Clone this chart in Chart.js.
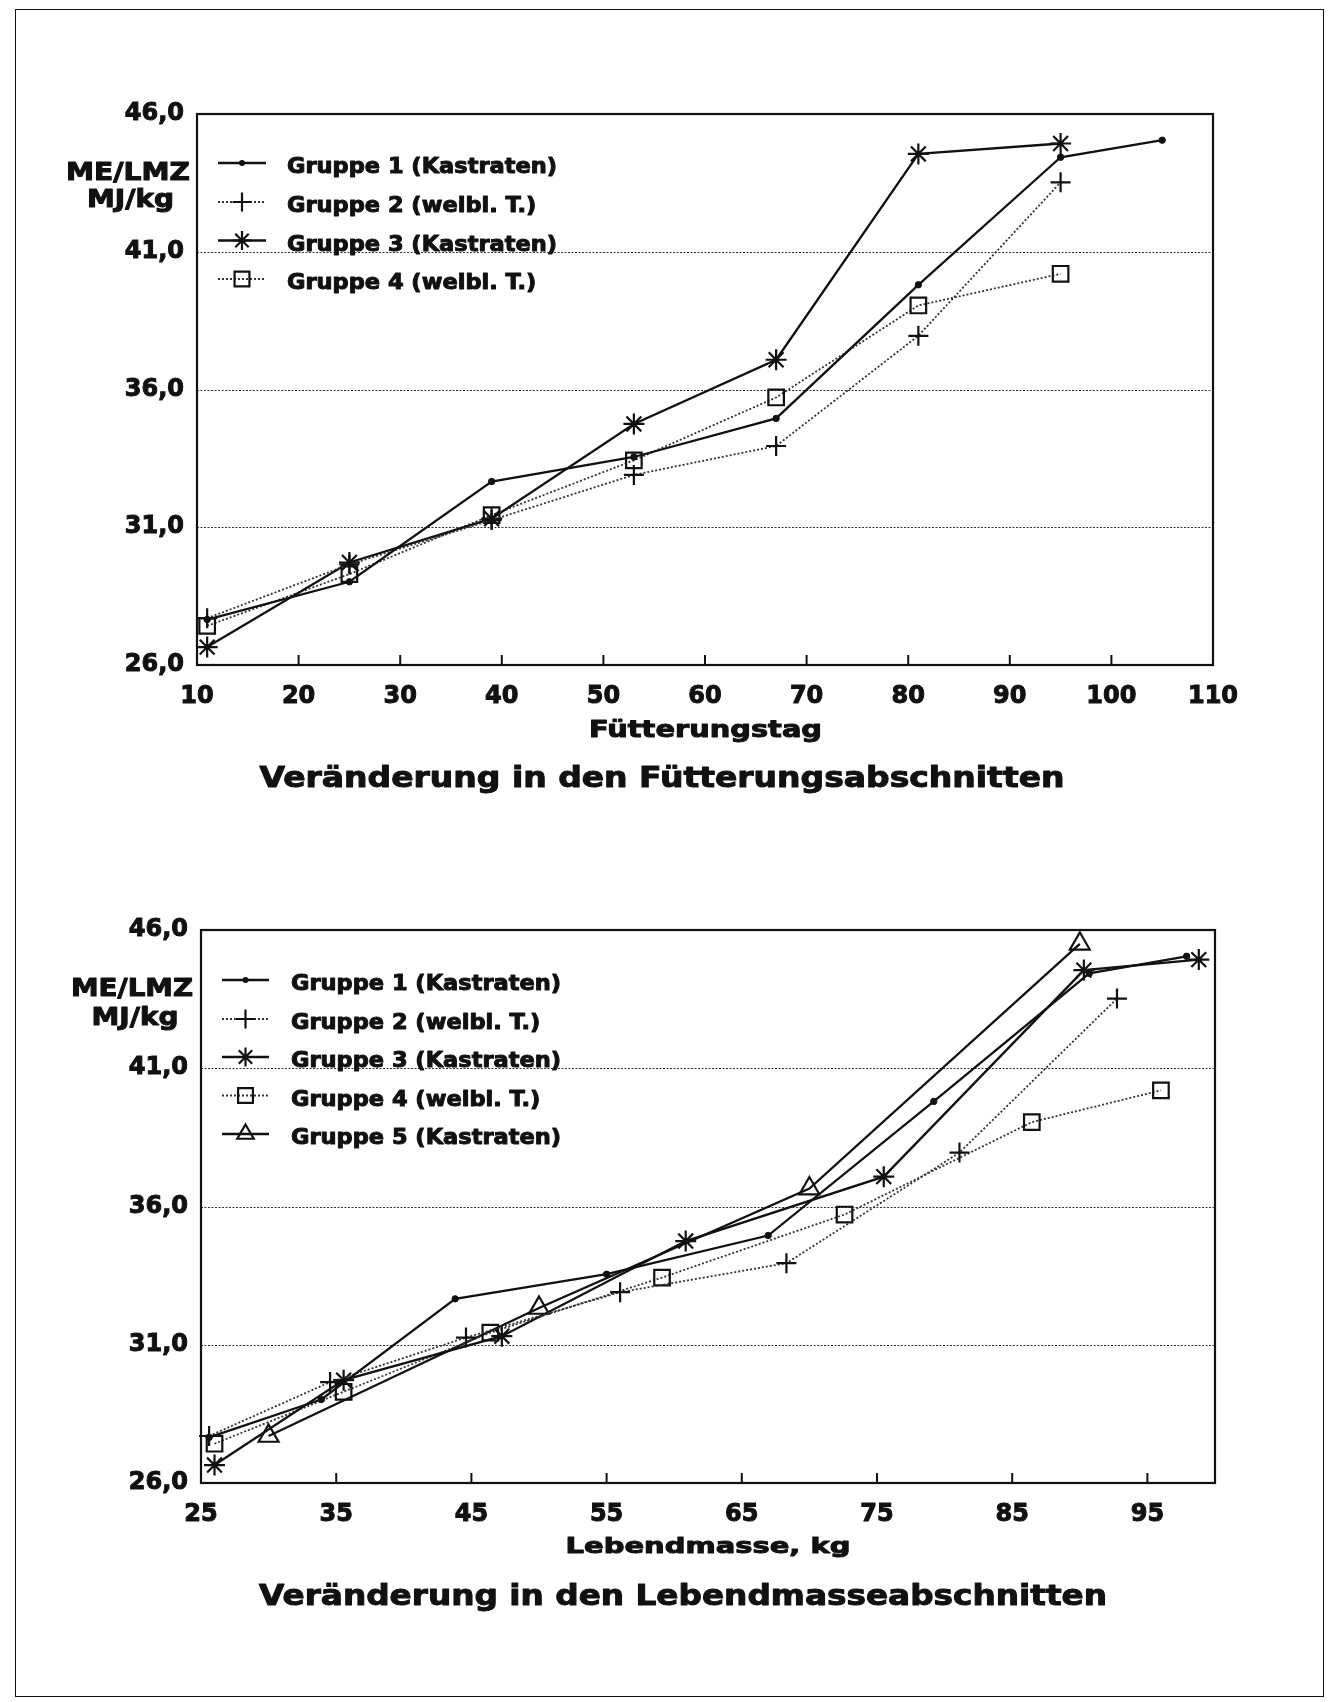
<!DOCTYPE html>
<html>
<head>
<meta charset="utf-8">
<script src="https://cdn.jsdelivr.net/npm/chart.js@4.4.0/dist/chart.umd.min.js"></script>
<style>
  html, body { margin: 0; padding: 0; background: #fff; }
  #page { position: relative; width: 1333px; height: 1702px; overflow: hidden; background: #fff; }
  #frame { position: absolute; left: 15px; top: 9px; width: 1309px; height: 1688px;
           border: 1.5px solid #111; box-sizing: border-box; }
  canvas { position: absolute; left: 0; }
  #c1 { top: 0; }
  #c2 { top: 850px; }
</style>
</head>
<body>
<div id="page">
  <div id="frame"></div>
  <canvas id="c1" width="1333" height="850"></canvas>
  <canvas id="c2" width="1333" height="852"></canvas>
</div>
<script>
// ME/LMZ (MJ/kg) per group and section
const g1Values = [27.65, 29.02, 32.66, 33.55, 34.95, 39.80, 44.43, 45.05];
const g2Values = [27.70, 29.65, 31.26, 32.90, 33.95, 37.95, 43.52];
const g3Values = [26.65, 29.72, 31.31, 34.75, 37.08, 44.55, 44.93];
const g4Values = [27.42, 29.30, 31.44, 33.43, 35.71, 39.05, 40.20];
const g5Values = [27.70, 32.33, 36.65, 45.50];

// Fütterungstag of each section
const g1Days = [11, 25, 39, 53, 67, 81, 95, 105];
const g2Days = [11, 25, 39, 53, 67, 81, 95];
const g3Days = [11, 25, 39, 53, 67, 81, 95];
const g4Days = [11, 25, 39, 53, 67, 81, 95];

// Lebendmasse (kg) of each section
const g1Mass = [25.6, 33.9, 43.8, 55.0, 66.95, 79.2, 90.7, 97.9];
const g2Mass = [25.6, 34.55, 44.6, 56.0, 68.3, 81.1, 92.75];
const g3Mass = [26.0, 35.55, 47.25, 60.85, 75.5, 90.3, 98.8];
const g4Mass = [26.0, 35.55, 46.4, 59.1, 72.6, 86.45, 96.0];
const g5Mass = [30, 50, 70, 90];

// axis ticks
const yTicks = [26, 31, 36, 41, 46];
const dayTicks = [10, 20, 30, 40, 50, 60, 70, 80, 90, 100, 110];
const massTicks = [25, 35, 45, 55, 65, 75, 85, 95];

const groupLabels = [
  'Gruppe 1 (Kastraten)',
  'Gruppe 2 (weibl. T.)',
  'Gruppe 3 (Kastraten)',
  'Gruppe 4 (weibl. T.)',
  'Gruppe 5 (Kastraten)'
];

const FONT = '"DejaVu Sans", "Liberation Sans", sans-serif';
const INK = '#111';
const SOLID_W = 2.3;
const DOT_W = 1.8;

const groupStyles = [
  { pointStyle: 'circle',   radius: 3.2,  solid: true  },
  { pointStyle: 'cross',    radius: 10,   solid: false },
  { pointStyle: 'star',     radius: 10.5, solid: true  },
  { pointStyle: 'rect',     radius: 11,   solid: false },
  { pointStyle: 'triangle', radius: 11.5, solid: true  }
];

function series(i, xs, ys) {
  const st = groupStyles[i];
  return {
    label: groupLabels[i],
    data: xs.map((x, k) => ({ x: x, y: ys[k] })),
    borderColor: st.solid ? INK : '#333',
    borderWidth: st.solid ? SOLID_W : DOT_W,
    borderDash: st.solid ? [] : [2, 2],
    pointStyle: st.pointStyle,
    pointRadius: st.radius,
    pointHoverRadius: st.radius,
    pointBorderWidth: st.pointStyle === 'circle' ? 1 : 2.2,
    pointBorderColor: INK,
    pointBackgroundColor: st.pointStyle === 'circle' ? INK : 'rgba(0,0,0,0)',
    tension: 0,
    fill: false,
    clip: false
  };
}

// stretched heavy text, anchored at its baseline
function drawText(ctx, str, x, y, size, width, align) {
  ctx.save();
  ctx.font = 'bold ' + size + 'px ' + FONT;
  const natural = ctx.measureText(str).width;
  const sx = width ? width / natural : 1;
  ctx.translate(x, y);
  ctx.scale(sx, 1);
  ctx.fillStyle = INK;
  ctx.strokeStyle = INK;
  ctx.lineWidth = 1;
  ctx.lineJoin = 'round';
  ctx.textAlign = align || 'center';
  ctx.textBaseline = 'alphabetic';
  ctx.fillText(str, 0, 0);
  ctx.strokeText(str, 0, 0);
  ctx.restore();
}

function drawMarker(ctx, style, r, x, y) {
  ctx.save();
  ctx.strokeStyle = INK;
  ctx.fillStyle = INK;
  ctx.lineWidth = 2.2;
  ctx.setLineDash([]);
  ctx.beginPath();
  if (style === 'circle') {
    ctx.arc(x, y, r, 0, Math.PI * 2);
    ctx.fill();
  } else if (style === 'cross' || style === 'star') {
    ctx.moveTo(x, y - r); ctx.lineTo(x, y + r);
    ctx.moveTo(x - r, y); ctx.lineTo(x + r, y);
    if (style === 'star') {
      const d = r * Math.SQRT1_2;
      ctx.moveTo(x - d, y - d); ctx.lineTo(x + d, y + d);
      ctx.moveTo(x - d, y + d); ctx.lineTo(x + d, y - d);
    }
    ctx.stroke();
  } else if (style === 'rect') {
    const s = r * Math.SQRT1_2;
    ctx.rect(x - s, y - s, 2 * s, 2 * s);
    ctx.stroke();
  } else if (style === 'triangle') {
    const a = Math.PI * 2 / 3;
    ctx.moveTo(x, y - r);
    ctx.lineTo(x + Math.sin(a) * r, y - Math.cos(a) * r);
    ctx.lineTo(x + Math.sin(2 * a) * r, y - Math.cos(2 * a) * r);
    ctx.closePath();
    ctx.stroke();
  }
  ctx.restore();
}

function panelPlugin(cfg) {
  return {
    id: 'panelDecor',
    beforeDatasetsDraw(chart) {
      const { ctx, chartArea: a, scales } = chart;
      ctx.save();
      // dotted horizontal grid lines
      ctx.strokeStyle = '#333';
      ctx.lineWidth = 1.2;
      ctx.setLineDash([2, 1.5]);
      yTicks.slice(1, -1).forEach(v => {
        const py = Math.round(scales.y.getPixelForValue(v)) + 0.5;
        ctx.beginPath();
        ctx.moveTo(a.left, py);
        ctx.lineTo(a.right, py);
        ctx.stroke();
      });
      ctx.setLineDash([]);
      // plot frame
      ctx.strokeStyle = INK;
      ctx.lineWidth = 2.2;
      ctx.strokeRect(a.left, a.top, a.right - a.left, a.bottom - a.top);
      // tick marks pointing into the plot
      ctx.lineWidth = 2;
      cfg.xTicks.forEach(v => {
        const px = scales.x.getPixelForValue(v);
        if (px <= a.left + 1 || px >= a.right - 1) return;
        ctx.beginPath();
        ctx.moveTo(px, a.bottom);
        ctx.lineTo(px, a.bottom - 10);
        ctx.stroke();
      });
      ctx.restore();
    },
    afterDraw(chart) {
      const ctx = chart.ctx;
      cfg.texts.forEach(t => drawText(ctx, t[0], t[1], t[2], t[3], t[4], 'center'));
      // legend
      const L = cfg.legend;
      ctx.save();
      ctx.font = 'bold ' + L.size + 'px ' + FONT;
      const stretch = L.refWidth / ctx.measureText(groupLabels[0]).width;
      ctx.restore();
      L.baselines.forEach((b, i) => {
        const st = groupStyles[i];
        const sy = b - 10;
        ctx.save();
        ctx.strokeStyle = st.solid ? INK : '#333';
        ctx.lineWidth = st.solid ? SOLID_W : DOT_W;
        ctx.setLineDash(st.solid ? [] : [2, 2]);
        ctx.beginPath();
        ctx.moveTo(L.x1, sy);
        ctx.lineTo(L.x2, sy);
        ctx.stroke();
        ctx.restore();
        const r = st.pointStyle === 'circle' ? 3 : (st.pointStyle === 'rect' ? 10.5 : 9.5);
        drawMarker(ctx, st.pointStyle, r, (L.x1 + L.x2) / 2, sy);
        ctx.save();
        ctx.font = 'bold ' + L.size + 'px ' + FONT;
        const w = ctx.measureText(groupLabels[i]).width * stretch;
        ctx.restore();
        drawText(ctx, groupLabels[i], L.textX, b, L.size, w, 'left');
      });
    }
  };
}

function makeChart(id, datasets, p) {
  const tickFont = { family: FONT, weight: 'bold', size: 24 };
  return new Chart(document.getElementById(id), {
    type: 'line',
    data: { datasets: datasets },
    options: {
      responsive: false,
      animation: false,
      devicePixelRatio: 1,
      events: [],
      layout: { padding: { left: 0, right: p.padRight, top: p.padTop, bottom: 0 } },
      plugins: { legend: { display: false }, tooltip: { enabled: false } },
      scales: {
        x: {
          type: 'linear',
          min: p.xMin,
          max: p.xMax,
          afterBuildTicks: s => { s.ticks = p.xTicks.map(v => ({ value: v })); },
          afterFit: s => { s.height = p.xHeight; },
          grid: { display: false, drawTicks: false },
          border: { display: false },
          ticks: {
            padding: 17, color: INK, font: tickFont,
            textStrokeColor: INK, textStrokeWidth: 1,
            maxRotation: 0, autoSkip: false,
            callback: v => String(v)
          }
        },
        y: {
          type: 'linear',
          min: 26,
          max: 46,
          afterBuildTicks: s => { s.ticks = yTicks.map(v => ({ value: v })); },
          afterFit: s => { s.width = p.yWidth; },
          grid: { display: false, drawTicks: false },
          border: { display: false },
          ticks: {
            padding: 13, color: INK, font: tickFont,
            textStrokeColor: INK, textStrokeWidth: 1,
            callback: v => v.toFixed(1).replace('.', ',')
          }
        }
      }
    },
    plugins: [panelPlugin(p)]
  });
}

// Panel 1: by feeding day
makeChart('c1', [
  series(0, g1Days, g1Values),
  series(1, g2Days, g2Values),
  series(2, g3Days, g3Values),
  series(3, g4Days, g4Values)
], {
  xMin: 10, xMax: 110, xTicks: dayTicks,
  padTop: 114, padRight: 120, yWidth: 197, xHeight: 850 - 665,
  texts: [
    ['ME/LMZ', 128, 180, 24, 124],
    ['MJ/kg', 130.5, 207, 24, 87],
    ['Fütterungstag', 705.5, 737, 23, 233],
    ['Veränderung in den Fütterungsabschnitten', 662, 787, 28, 805]
  ],
  legend: { x1: 218, x2: 266, textX: 287, size: 21, refWidth: 270,
            baselines: [173, 212, 250.5, 289] }
});

// Panel 2: by live weight
const off = 850;
makeChart('c2', [
  series(0, g1Mass, g1Values),
  series(1, g2Mass, g2Values),
  series(2, g3Mass, g3Values),
  series(3, g4Mass, g4Values),
  series(4, g5Mass, g5Values)
], {
  xMin: 25, xMax: 100, xTicks: massTicks,
  padTop: 930 - off, padRight: 118, yWidth: 201, xHeight: 852 - (1483 - off),
  texts: [
    ['ME/LMZ', 132, 996 - off, 24, 122],
    ['MJ/kg', 135, 1025 - off, 24, 87],
    ['Lebendmasse, kg', 708, 1553 - off, 22, 285],
    ['Veränderung in den Lebendmasseabschnitten', 683, 1605 - off, 29, 848]
  ],
  legend: { x1: 222, x2: 269, textX: 291, size: 21, refWidth: 270,
            baselines: [990 - off, 1029 - off, 1067 - off, 1105.5 - off, 1144 - off] }
});
</script>
</body>
</html>
